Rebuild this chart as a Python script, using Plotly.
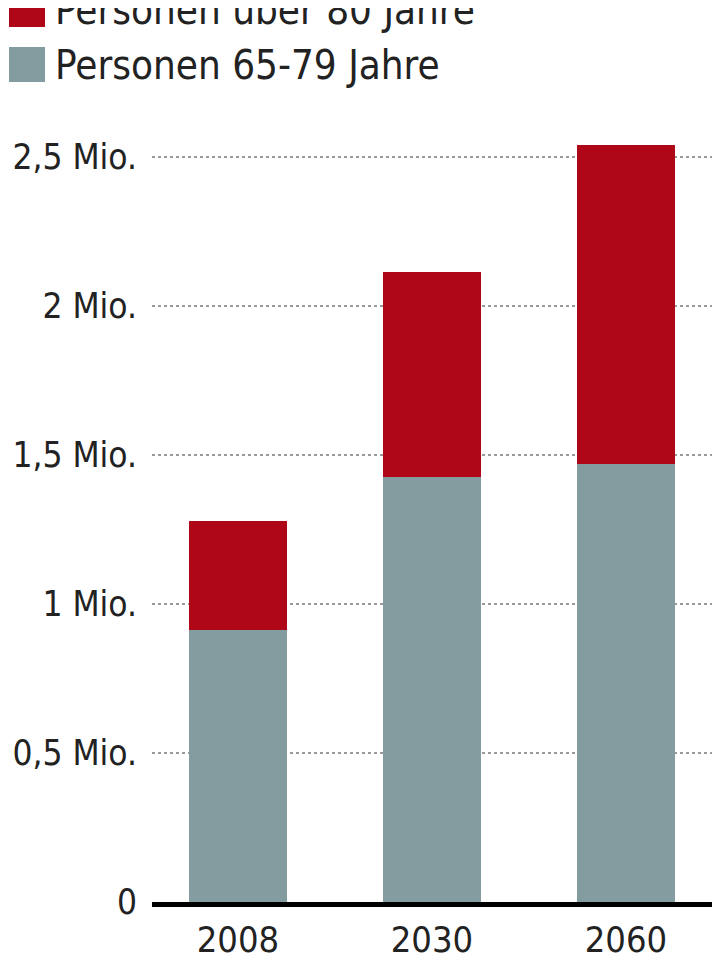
import plotly.graph_objects as go

years = ["2008", "2030", "2060"]
age_65_79 = [0.913, 1.426, 1.47]
age_80_plus = [0.365, 0.688, 1.07]

tick_vals = [0, 0.5, 1, 1.5, 2, 2.5]
tick_text = ["0", "0,5 Mio.", "1 Mio.", "1,5 Mio.", "2 Mio.", "2,5 Mio."]

legend_labels = ["Personen über 80 Jahre", "Personen 65-79 Jahre"]

RED = "#AF0718"
GREY = "#839C9F"
FONT = "Liberation Sans Narrow, DejaVu Sans Condensed, Arial Narrow, sans-serif"

fig = go.Figure()

fig.add_trace(go.Bar(
    x=years,
    y=age_65_79,
    name=legend_labels[1],
    marker=dict(color=GREY, line=dict(width=0)),
    width=0.505,
))
fig.add_trace(go.Bar(
    x=years,
    y=age_80_plus,
    name=legend_labels[0],
    marker=dict(color=RED, line=dict(width=0)),
    width=0.505,
))

# plot area in page pixels: x 152..720, y 120..902 (page body has an 8px offset)
def px_x(px):
    return (px - 152) / 568

def px_y(py):
    return (902 - py) / 782

# hand-drawn legend (big squares like the original)
legend_rows = [(legend_labels[0], RED, 10), (legend_labels[1], GREY, 65)]
for label, color, cy in legend_rows:
    fig.add_shape(
        type="rect", xref="paper", yref="paper",
        x0=px_x(9), x1=px_x(45), y0=px_y(cy + 17), y1=px_y(cy - 18),
        fillcolor=color, line=dict(width=0),
    )
    fig.add_annotation(
        text=label, xref="paper", yref="paper",
        x=px_x(53), y=px_y(cy), xanchor="left", yanchor="middle",
        showarrow=False, font=dict(family=FONT, size=40, color="#222222"),
    )

fig.update_layout(
    barmode="stack",
    width=720,
    height=960,
    margin=dict(l=144, r=8, t=112, b=66),
    plot_bgcolor="white",
    paper_bgcolor="white",
    showlegend=False,
    font=dict(family=FONT, size=35, color="#222222"),
)

fig.update_xaxes(
    range=[-0.443, 2.485],
    automargin=False,
    showgrid=False,
    showline=True,
    linecolor="black",
    linewidth=5,
    layer="above traces",
    ticks="",
    ticklabelstandoff=2,
    tickfont=dict(family=FONT, size=36, color="#222222"),
)
fig.update_yaxes(
    range=[0, 2.624],
    automargin=False,
    tickvals=tick_vals,
    ticktext=tick_text,
    showgrid=True,
    gridcolor="#9a9a9a",
    gridwidth=2,
    griddash="dot",
    zeroline=False,
    ticks="",
    ticklabelstandoff=14,
    tickfont=dict(family=FONT, size=35, color="#222222"),
)

fig.write_html("out.html")
